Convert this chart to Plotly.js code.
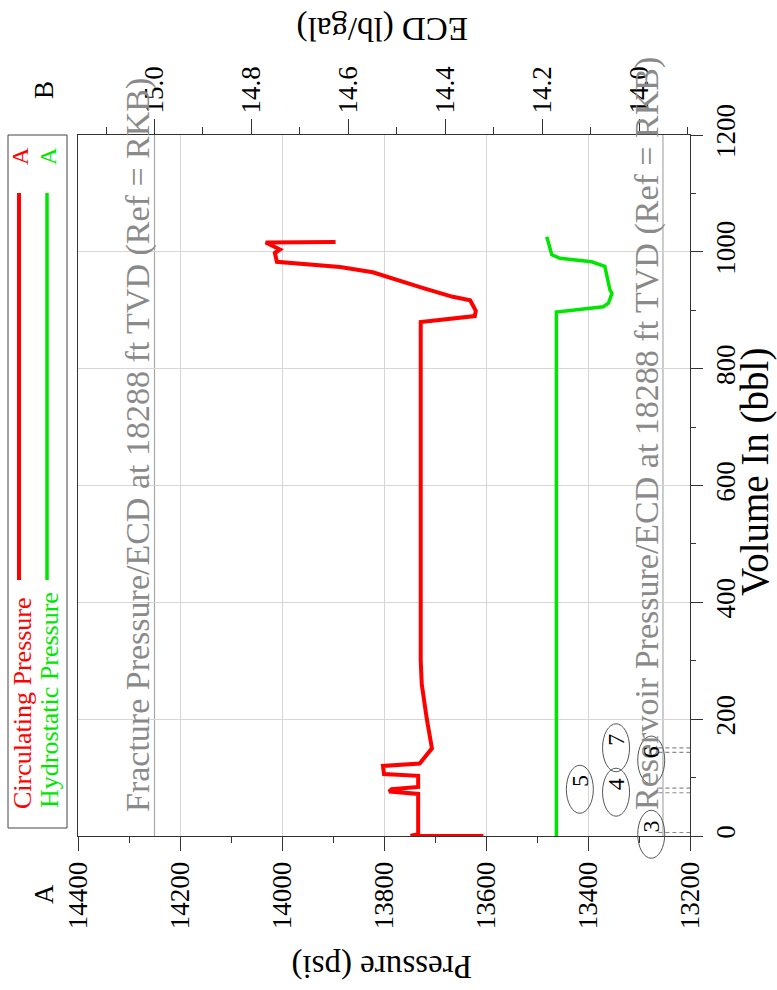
<!DOCTYPE html>
<html><head><meta charset="utf-8">
<script src="https://cdn.plot.ly/plotly-3.0.1.min.js"></script>
<style>html,body{margin:0;padding:0;background:#fff;}#chart{width:777px;height:990px;}</style>
</head><body><div id="chart"></div>
<script>
// ---- data (volume in bbl, pressure in psi) ----
const circVolume   = [0, 0.5, 3, 72, 76, 80, 84, 103, 106, 120, 124, 150, 200, 260, 300, 880, 890, 899, 917, 923, 938, 965, 974, 983, 998, 1004, 1016, 1017];
const circPressure = [13605, 13748, 13733, 13733, 13790, 13785, 13733, 13733, 13800, 13802, 13730, 13706, 13716, 13726, 13728, 13728, 13622, 13620, 13631, 13665, 13723, 13822, 13886, 14010, 14014, 14004, 14032, 13895];
const hydroVolume   = [0, 897, 906, 912, 929, 935, 975, 983, 989, 995, 1017, 1026];
const hydroPressure = [13462, 13462, 13370, 13360, 13353, 13357, 13367, 13393, 13455, 13471, 13478, 13481];

const pressureRange = [14400, 13200];
const volumeRange = [0, 1200];
const ecdFactor = 950;            // psi per lb/gal at 18288 ft TVD
const fracturePressure = 14250;
const reservoirPressure = 13253;

const eventLabels   = ['3', '4', '5', '6', '7'];
const eventVolumes  = [6, 74, 82, 143, 151];
const eventLabelPressure = [13276, 13345, 13416, 13276, 13345];
const eventLabelVolume   = [3, 75, 80, 130, 151];

const seriesNames  = ['Circulating Pressure', 'Hydrostatic Pressure'];
const seriesColors = ['#ff0000', '#00e600'];

const FONT = 'Liberation Serif, Times New Roman, serif';

// pixel helpers for paper placement of decorative text
const L = 78, R = 87, T = 135, B = 154, W = 777, H = 990;
const pw = W - L - R, ph = H - T - B;
const px = x => (x - L) / pw;
const py = y => (H - B - y) / ph;

const traces = [
  {x: circPressure, y: circVolume, mode: 'lines', line: {color: seriesColors[0], width: 4}, name: seriesNames[0], hoverinfo: 'skip'},
  {x: hydroPressure, y: hydroVolume, mode: 'lines', line: {color: seriesColors[1], width: 3.5}, name: seriesNames[1], hoverinfo: 'skip'},
  {x: pressureRange.map(p => p / ecdFactor), y: [0, 0], xaxis: 'x2', mode: 'none', showlegend: false, hoverinfo: 'skip'}
];

const shapes = [];
// reference lines
[fracturePressure, reservoirPressure].forEach(p => shapes.push({
  type: 'line', xref: 'x', yref: 'paper', x0: p, x1: p, y0: 0, y1: 1,
  line: {color: '#a8a8a8', width: 1.2}, layer: 'below'
}));
// event dashed marks
eventVolumes.forEach(v => shapes.push({
  type: 'line', xref: 'x', yref: 'y', x0: 13262, x1: 13200, y0: v, y1: v,
  line: {color: '#8a8a8a', width: 1.2, dash: '4px,3px'}
}));
// event ellipses
eventLabels.forEach((s, i) => shapes.push({
  type: 'circle', xref: 'x', yref: 'paper', xsizemode: 'pixel', ysizemode: 'pixel',
  xanchor: eventLabelPressure[i], yanchor: eventLabelVolume[i] / volumeRange[1],
  x0: -13.5, x1: 13.5, y0: -24, y1: 24,
  line: {color: '#555', width: 1}
}));
// legend box and lines
shapes.push({type: 'rect', xref: 'paper', yref: 'paper', x0: px(8), x1: px(67), y0: py(828), y1: py(135),
  line: {color: '#444', width: 1}});
shapes.push({type: 'line', xref: 'paper', yref: 'paper', x0: px(19), x1: px(19), y0: py(580), y1: py(193),
  line: {color: seriesColors[0], width: 4}});
shapes.push({type: 'line', xref: 'paper', yref: 'paper', x0: px(47), x1: px(47), y0: py(580), y1: py(193),
  line: {color: seriesColors[1], width: 3.5}});

const annotations = [];
const ann = (text, x, y, size, angle, color, extra) => annotations.push(Object.assign({
  text, x, y, xref: 'paper', yref: 'paper', showarrow: false, textangle: angle,
  font: {family: FONT, size, color}, xanchor: 'center', yanchor: 'middle'
}, extra || {}));

ann('Volume In (bbl)', px(755), py(472), 39, -90, '#000');
ann('Pressure (psi)', px(382), py(967), 33, 180, '#000');
ann('ECD (lb/gal)', px(383), py(29), 33, 180, '#000');
ann('A', px(44), py(894), 27, -90, '#000');
ann('B', px(44), py(90), 27, -90, '#000');
ann('Fracture Pressure/ECD at 18288 ft TVD (Ref = RKB)', px(138), py(445), 34, -90, '#8a8a8a');
ann('Reservoir Pressure/ECD at 18288 ft TVD (Ref = RKB)', px(647), py(434), 34, -90, '#8a8a8a');
ann(seriesNames[0], px(22), py(703), 26, -90, seriesColors[0]);
ann(seriesNames[1], px(49), py(700), 26, -90, seriesColors[1]);
ann('A', px(20), py(156), 24, -90, seriesColors[0]);
ann('A', px(48), py(156), 24, -90, seriesColors[1]);
eventLabels.forEach((s, i) => annotations.push({
  text: s, x: eventLabelPressure[i], y: eventLabelVolume[i] / volumeRange[1], xref: 'x', yref: 'paper',
  showarrow: false, textangle: -90, font: {family: FONT, size: 24, color: '#000'}
}));

const layout = {
  width: W, height: H, margin: {l: L, r: R, t: T, b: B},
  paper_bgcolor: '#fff', plot_bgcolor: '#fff', showlegend: false,
  font: {family: FONT, size: 26, color: '#000'},
  xaxis: {
    range: pressureRange, tickmode: 'linear', tick0: 13200, dtick: 200, tickformat: 'd', tickangle: -90,
    ticks: 'outside', ticklen: 14, tickcolor: '#333', tickwidth: 1,
    minor: {dtick: 100, ticks: 'outside', ticklen: 6, tickcolor: '#333', showgrid: false},
    showgrid: true, gridcolor: '#d6d6d6', gridwidth: 1, zeroline: false,
    showline: true, linecolor: '#333', linewidth: 1, mirror: true,
    tickfont: {family: FONT, size: 27, color: '#000'}
  },
  xaxis2: {
    overlaying: 'x', side: 'top', range: pressureRange.map(p => p / ecdFactor),
    tickmode: 'linear', tick0: 14.0, dtick: 0.2, tickformat: '.1f', tickangle: -90,
    ticks: 'outside', ticklen: 15, tickcolor: '#333',
    minor: {dtick: 0.1, ticks: 'outside', ticklen: 7, tickcolor: '#333', showgrid: false},
    showgrid: false, zeroline: false, showline: false,
    tickfont: {family: FONT, size: 27, color: '#000'}
  },
  yaxis: {
    range: volumeRange, side: 'right', tickmode: 'linear', tick0: 0, dtick: 200, tickformat: 'd', tickangle: -90,
    ticks: 'outside', ticklen: 12, tickcolor: '#333',
    minor: {dtick: 100, ticks: 'outside', ticklen: 5, tickcolor: '#333', showgrid: false},
    showgrid: true, gridcolor: '#d6d6d6', zeroline: false,
    showline: true, linecolor: '#333', linewidth: 1, mirror: true,
    tickfont: {family: FONT, size: 27, color: '#000'}
  },
  shapes, annotations
};

Plotly.newPlot('chart', traces, layout, {staticPlot: true, displayModeBar: false});
</script>
</body></html>
